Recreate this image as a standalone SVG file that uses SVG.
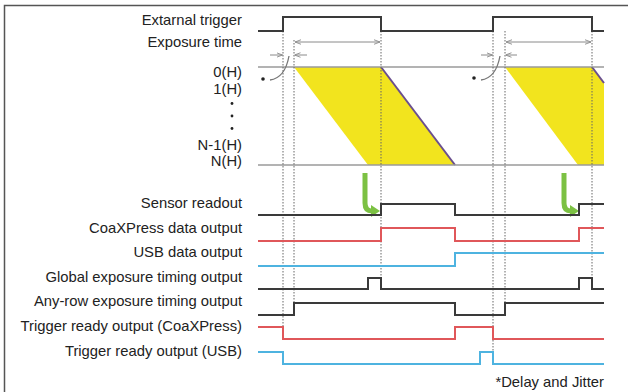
<svg xmlns="http://www.w3.org/2000/svg" width="628" height="392" viewBox="0 0 628 392">
<style>
text{font-family:"Liberation Sans",Arial,sans-serif;font-size:14.8px;fill:#222;}
.lbl{text-anchor:end;}
.blk{fill:none;stroke:#3a3a3a;stroke-width:2;}
.red{fill:none;stroke:#e0575a;stroke-width:2;}
.blu{fill:none;stroke:#4eb3e0;stroke-width:2;}
.row{fill:none;stroke:#9a9a9a;stroke-width:1.5;}
.dot{fill:none;stroke:#666;stroke-width:1;stroke-dasharray:1.5,1.5;}
.dim{fill:none;stroke:#8a8a8a;stroke-width:1;}
.grn{fill:none;stroke:#7cc143;stroke-width:5;}
.gah{fill:#7cc143;}
</style>
<defs>
<marker id="ah" viewBox="0 0 8 8" refX="8" refY="4" markerWidth="6" markerHeight="6" orient="auto-start-reverse" markerUnits="userSpaceOnUse">
<path d="M0,1 L8,4 L0,7" fill="none" stroke="#8a8a8a" stroke-width="1.2"/>
</marker>
</defs>
<rect x="0" y="0" width="628" height="392" fill="#fff"/>
<path d="M4.5,392 V5.5 H628" fill="none" stroke="#555" stroke-width="1.5"/>

<g id="labels">
<text class="lbl" x="242" y="25">Extarnal trigger</text>
<text class="lbl" x="242" y="47">Exposure time</text>
<text class="lbl" x="242" y="77">0(H)</text>
<text class="lbl" x="242" y="94">1(H)</text>
<circle cx="232" cy="103.5" r="1.4" fill="#222"/>
<circle cx="232" cy="116" r="1.4" fill="#222"/>
<circle cx="232" cy="128.5" r="1.4" fill="#222"/>
<text class="lbl" x="242" y="150">N-1(H)</text>
<text class="lbl" x="242" y="166">N(H)</text>
<text class="lbl" x="242" y="208">Sensor readout</text>
<text class="lbl" x="242" y="233">CoaXPress data output</text>
<text class="lbl" x="242" y="257">USB data output</text>
<text class="lbl" x="242" y="282">Global exposure timing output</text>
<text class="lbl" x="242" y="306">Any-row exposure timing output</text>
<text class="lbl" x="242" y="331">Trigger ready output (CoaXPress)</text>
<text class="lbl" x="242" y="356">Trigger ready output (USB)</text>
<text x="604" y="387" text-anchor="end">*Delay and Jitter</text>
</g>

<g id="exposure">
<path d="M294,67 L381,67 L455,165 L368,165 Z" fill="#f2e41e"/>
<line x1="381" y1="67" x2="455" y2="165" stroke="#6a4f8f" stroke-width="2"/>
<path d="M505,67 L592,67 L604,83 L604,165 L578,165 Z" fill="#f2e41e"/>
<line x1="592" y1="67" x2="604" y2="83" stroke="#6a4f8f" stroke-width="2"/>
<line class="row" x1="258" y1="67" x2="604" y2="67"/>
<line class="row" x1="258" y1="165" x2="604" y2="165"/>
</g>

<g id="connectors">
<line class="dot" x1="283" y1="31" x2="283" y2="327"/>
<line class="dot" x1="294" y1="40" x2="294" y2="303"/>
<line class="dot" x1="381" y1="31" x2="381" y2="278"/>
<line class="dot" x1="493" y1="31" x2="493" y2="352"/>
<line class="dot" x1="505" y1="31" x2="505" y2="303"/>
<line class="dot" x1="592" y1="31" x2="592" y2="289"/>
<line class="dim" x1="295" y1="42" x2="380" y2="42" marker-start="url(#ah)" marker-end="url(#ah)"/>
<line class="dim" x1="506" y1="42" x2="591" y2="42" marker-start="url(#ah)" marker-end="url(#ah)"/>
<line class="dim" x1="270" y1="55" x2="282.5" y2="55" marker-end="url(#ah)"/>
<line class="dim" x1="307" y1="55" x2="294.5" y2="55" marker-end="url(#ah)"/>
<line class="dim" x1="481" y1="55" x2="492.5" y2="55" marker-end="url(#ah)"/>
<line class="dim" x1="517" y1="55" x2="505.5" y2="55" marker-end="url(#ah)"/>
<path d="M270,80 Q285,78 289,56" fill="none" stroke="#777" stroke-width="1.3"/>
<path d="M481,80 Q496,78 500,56" fill="none" stroke="#777" stroke-width="1.3"/>
<circle cx="263" cy="79" r="1.8" fill="#222"/>
<circle cx="474" cy="78" r="1.8" fill="#222"/>
<path class="grn" d="M365,173 V203 Q365,211 372,211"/>
<path class="gah" d="M371,205 L380,211 L371,217 Z"/>
<path class="grn" d="M564,173 V203 Q564,211 571,211"/>
<path class="gah" d="M570,205 L579,211 L570,217 Z"/>
</g>

<g id="signals">
<path class="blk" d="M258,31 H283 V17 H381 V31 H493 V17 H592 V31 H604"/>
<path class="blk" d="M258,215 H381 V204 H455 V215 H579 V204 H604"/>
<path class="red" d="M258,241 H381 V228 H455 V241 H579 V228 H604"/>
<path class="blu" d="M258,266 H455 V253 H604"/>
<path class="blk" d="M258,289 H368 V278 H381 V289 H579 V278 H592 V289 H604"/>
<path class="blk" d="M258,315 H294 V303 H455 V315 H505 V303 H604"/>
<path class="red" d="M258,327 H283 V339 H455 V327 H493 V339 H604"/>
<path class="blu" d="M258,352 H283 V364 H480 V352 H493 V364 H604"/>
</g>
</svg>
